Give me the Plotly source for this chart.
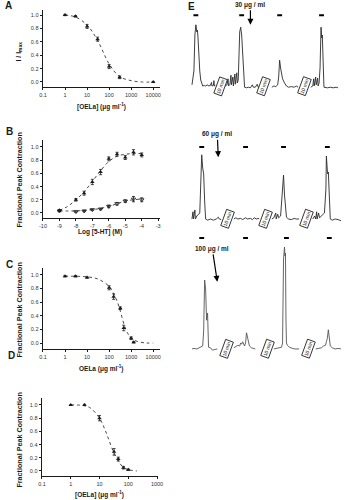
import plotly.graph_objects as go

W, H = 346, 500
FONT = "Liberation Sans, Arial, sans-serif"
INK = "#1a1a1a"

# ---------------- A: OELa inhibition of current (I/Imax) ----------------
a_conc = [1, 3, 10, 30, 100, 300, 10000]
a_resp = [1.0, 0.98, 0.83, 0.64, 0.23, 0.07, 0.0]
a_err = [0.01, 0.01, 0.03, 0.03, 0.03, 0.02, 0.0]
a_fit_conc = [1, 3, 10, 30, 100, 300, 1000, 3000, 10000]
a_fit_resp = [1.0, 0.97, 0.85, 0.62, 0.27, 0.08, 0.02, 0.0, 0.0]

# ---------------- B: 5-HT concentration-response ----------------
b_log = [-9, -8, -7.5, -7, -6.5, -6, -5.5, -5, -4.5, -4]
b_ctrl = [0.04, 0.2, 0.3, 0.47, 0.62, 0.82, 0.89, 0.84, 0.92, 0.88]
b_ctrl_err = [0.01, 0.02, 0.03, 0.04, 0.04, 0.03, 0.03, 0.03, 0.04, 0.03]
b_oela = [0.03, 0.02, 0.03, 0.05, 0.06, 0.10, 0.14, 0.18, 0.21, 0.20]
b_oela_err = [0.01, 0.01, 0.01, 0.01, 0.01, 0.02, 0.02, 0.02, 0.04, 0.03]
b_fit_log = [-9, -8.5, -8, -7.5, -7, -6.5, -6, -5.5, -5, -4.5, -4]
b_ctrl_fit = [0.04, 0.1, 0.2, 0.32, 0.48, 0.64, 0.78, 0.86, 0.89, 0.9, 0.9]
b_oela_fit = [0.03, 0.03, 0.03, 0.04, 0.05, 0.07, 0.1, 0.14, 0.18, 0.2, 0.21]

# ---------------- C: OELa on 5-HT contraction ----------------
c_conc = [1, 3, 10, 100, 160, 320, 460, 1000, 1300]
c_resp = [0.98, 0.98, 0.96, 0.81, 0.68, 0.51, 0.22, 0.07, 0.01]
c_err = [0.01, 0.01, 0.01, 0.03, 0.04, 0.02, 0.04, 0.02, 0.01]
c_fit_conc = [1, 10, 30, 100, 200, 300, 500, 700, 1000, 2000, 5000, 10000]
c_fit_resp = [0.98, 0.97, 0.94, 0.83, 0.66, 0.5, 0.25, 0.14, 0.07, 0.02, 0.0, 0.0]

# ---------------- D: OELa, second preparation ----------------
d_conc = [1, 3, 10, 32, 45, 68, 100]
d_resp = [1.0, 1.0, 0.8, 0.29, 0.18, 0.05, 0.02]
d_err = [0.0, 0.01, 0.04, 0.05, 0.03, 0.02, 0.01]
d_fit_conc = [1, 3, 5, 10, 15, 20, 30, 50, 70, 100, 200]
d_fit_resp = [1.0, 0.99, 0.95, 0.8, 0.64, 0.5, 0.3, 0.12, 0.05, 0.02, 0.0]

y_ticks = [0.0, 0.2, 0.4, 0.6, 0.8, 1.0]
y_tick_text = ["0.0", "0.2", "0.4", "0.6", "0.8", "1.0"]
log_ticks = [0.1, 1, 10, 100, 1000, 10000]
log_tick_text = ["0.1", "1", "10", "100", "1000", "10000"]
b_ticks = [-10, -9, -8, -7, -6, -5, -4, -3]

# ---------------- E: contraction recordings (arbitrary tension units) ----------------
# each row: list of segments (time, tension); segments are separated by 10-min breaks
e_row1 = [
    ([8, 9, 10, 11, 12, 13, 13.6, 14.2, 15, 16, 17, 18, 19, 21, 22, 24, 25, 27, 28, 28.5, 30, 30.5, 31, 32],
     [0.02, 0.15, 0.25, 0.85, 1.02, 0.9, 0.93, 0.8, 0.5, 0.25, 0.1, 0.03, 0.0, 0.01, 0.0, 0.02, 0.0, 0.01, 0.06, 0.0, 0.01, 0.09, 0.0, 0.01]),
    ([42, 44, 45, 45.5, 47, 48, 48.5, 50, 50.5, 52, 52.5, 54, 54.5, 55.5, 57, 58, 59, 60, 61, 62, 64, 66, 68, 70, 71, 73, 75, 76, 77],
     [0.0, 0.02, 0.12, 0.0, 0.03, 0.18, 0.02, 0.15, 0.0, 0.2, 0.03, 0.22, 0.05, 0.1, 0.9, 0.98, 0.85, 0.5, 0.1, -0.02, -0.03, -0.02, -0.03, 0.02, -0.02, -0.02, 0.03, -0.02, -0.02]),
    ([90, 92, 94, 96, 97, 98, 99, 100, 101, 103, 105, 107, 110, 113, 115, 117],
     [-0.02, 0.0, -0.01, 0.02, 0.15, 0.43, 0.3, 0.2, 0.12, 0.05, 0.0, -0.02, -0.01, -0.02, 0.0, -0.02]),
    ([130, 132, 133, 133.5, 135, 135.5, 137, 137.5, 138.5, 139.5, 140.5, 141.2, 141.8, 142.5, 143.5, 147, 150, 153, 156, 158],
     [-0.02, 0.0, 0.12, 0.0, 0.15, 0.02, 0.13, 0.0, 0.05, 0.3, 0.98, 0.8, 0.85, 0.3, -0.02, -0.03, -0.02, -0.03, -0.02, -0.03]),
]
e_row2 = [
    ([8, 9, 9.5, 11, 11.5, 13, 16, 17, 18, 19, 19.5, 20, 21, 22, 24, 27, 30, 33, 35, 36, 38],
     [0.0, 0.12, 0.0, 0.15, 0.0, 0.05, 0.1, 0.6, 1.07, 0.85, 0.78, 0.75, 0.3, 0.0, -0.02, 0.0, -0.02, 0.0, 0.03, 0.0, -0.01]),
    ([51, 53, 55, 58, 60, 63, 65, 68, 70, 72, 74, 77],
     [0.0, 0.02, 0.0, 0.01, -0.01, 0.02, 0.0, 0.01, -0.01, 0.02, 0.0, 0.01]),
    ([90, 92, 94, 94.5, 96, 97, 99, 101, 102, 103, 104, 105, 107, 110, 113, 115, 118],
     [0.0, 0.02, 0.1, 0.0, 0.08, 0.02, 0.05, 0.5, 0.73, 0.4, 0.15, 0.03, 0.0, -0.01, 0.01, 0.0, 0.0]),
    ([132, 134, 135, 136, 136.5, 138, 139, 141, 144, 145.5, 146, 147, 147.5, 148, 149, 150, 152, 155, 158, 161],
     [0.0, 0.05, 0.0, 0.12, 0.0, 0.1, 0.02, 0.05, 0.1, 0.5, 1.05, 0.8, 0.75, 0.78, 0.3, 0.0, -0.02, 0.0, -0.01, -0.03]),
]
e_row3 = [
    ([8, 10, 13, 15, 17, 19, 20, 21, 22, 22.5, 23, 24, 24.5, 25, 27, 29, 31, 34],
     [0.0, 0.01, 0.0, 0.02, 0.03, 0.05, 0.3, 1.15, 1.0, 0.5, 0.48, 0.6, 0.1, 0.03, 0.02, -0.02, -0.01, 0.0]),
    ([51, 53, 55, 57, 58, 59, 60, 62, 63, 64, 65, 66, 67, 69, 71, 73],
     [0.02, 0.04, 0.06, 0.05, 0.1, 0.08, 0.12, 0.05, 0.1, 0.27, 0.2, 0.1, 0.05, 0.02, 0.01, 0.0]),
    ([92, 95, 98, 100, 101, 102, 103, 103.5, 104, 104.5, 105, 106, 108, 111, 114, 118],
     [0.0, 0.01, 0.02, 0.03, 0.1, 1.5, 1.7, 1.55, 1.6, 0.5, 0.1, 0.06, 0.03, 0.01, 0.0, 0.0]),
    ([135, 138, 141, 143, 145, 146, 147, 148, 149, 150, 152, 155, 158, 161],
     [0.0, 0.01, 0.02, 0.05, 0.06, 0.12, 0.18, 0.32, 0.15, 0.05, 0.02, 0.0, 0.01, 0.0]),
]
e_stim = [[12, 59, 98, 141], [18, 63, 102, 147], [18, 63, 105, 149]]
e_stim_level = [1.18, 1.2, 1.85]
e_break = [[37, 81, 123], [45, 84, 126], [44, 86, 128]]
e_dose = ["30 μg / ml", "60 μg / ml", "100 μg / ml"]
e_dose_time = [68, 35, 34]
e_dose_level = [1.02, 1.03, 1.12]


def fx(p):
    return p / W


def fy(p):
    return 1 - p / H


fig = go.Figure()

marker_filled = dict(symbol="triangle-up", size=4, color=INK)
fit_line = dict(color=INK, width=0.8, dash="dot", shape="spline", smoothing=1)


def err(arr):
    return dict(type="data", array=arr, thickness=0.8, width=1.5, color=INK)


# A
fig.add_trace(go.Scatter(x=a_fit_conc, y=a_fit_resp, mode="lines", line=fit_line, xaxis="x", yaxis="y"))
fig.add_trace(go.Scatter(x=a_conc, y=a_resp, mode="markers", marker=marker_filled, error_y=err(a_err), xaxis="x", yaxis="y"))
# B
fig.add_trace(go.Scatter(x=b_fit_log, y=b_ctrl_fit, mode="lines", line=fit_line, xaxis="x2", yaxis="y2"))
fig.add_trace(go.Scatter(x=b_fit_log, y=b_oela_fit, mode="lines", line=fit_line, xaxis="x2", yaxis="y2"))
fig.add_trace(go.Scatter(x=b_log, y=b_ctrl, mode="markers", marker=marker_filled, error_y=err(b_ctrl_err), xaxis="x2", yaxis="y2"))
fig.add_trace(go.Scatter(x=b_log, y=b_oela, mode="markers",
                         marker=dict(symbol="triangle-down-open", size=4, color=INK, line=dict(width=0.8)),
                         error_y=err(b_oela_err), xaxis="x2", yaxis="y2"))
# C
fig.add_trace(go.Scatter(x=c_fit_conc, y=c_fit_resp, mode="lines", line=fit_line, xaxis="x3", yaxis="y3"))
fig.add_trace(go.Scatter(x=c_conc, y=c_resp, mode="markers", marker=marker_filled, error_y=err(c_err), xaxis="x3", yaxis="y3"))
# D
fig.add_trace(go.Scatter(x=d_fit_conc, y=d_fit_resp, mode="lines", line=fit_line, xaxis="x4", yaxis="y4"))
fig.add_trace(go.Scatter(x=d_conc, y=d_resp, mode="markers", marker=marker_filled, error_y=err(d_err), xaxis="x4", yaxis="y4"))

# E recordings
rows = [e_row1, e_row2, e_row3]
row_colors = ["#2a2a2a", "#2a2a2a", "#555555"]
for i, segs in enumerate(rows):
    xa, ya = "x%d" % (5 + i), "y%d" % (5 + i)
    tt, vv = [], []
    for t, v in segs:
        tt += t + [None]
        vv += v + [None]
    fig.add_trace(go.Scatter(x=tt, y=vv, mode="lines", line=dict(color=row_colors[i], width=0.9),
                             xaxis=xa, yaxis=ya))
    st, sv = [], []
    for s in e_stim[i]:
        st += [s - 2.5, s + 2.5, None]
        sv += [e_stim_level[i], e_stim_level[i], None]
    fig.add_trace(go.Scatter(x=st, y=sv, mode="lines", line=dict(color="#000", width=2),
                             xaxis=xa, yaxis=ya))


def sci_axis(**kw):
    base = dict(showline=True, linecolor=INK, linewidth=0.8, ticks="outside", ticklen=2.5,
                tickwidth=0.8, tickcolor=INK, showgrid=False, zeroline=False,
                tickfont=dict(family=FONT, size=5.5, color="#333"), fixedrange=True)
    base.update(kw)
    return base


def yax(anchor, dom, rng):
    return sci_axis(anchor=anchor, domain=[fy(dom[0]), fy(dom[1])], range=rng,
                    tickvals=y_ticks, ticktext=y_tick_text)


def hidden(anchor, dom, rng):
    return dict(visible=False, anchor=anchor, domain=dom, range=rng, fixedrange=True)


layout = dict(
    width=W, height=H, margin=dict(l=0, r=0, t=0, b=0),
    paper_bgcolor="white", plot_bgcolor="white", showlegend=False,
    font=dict(family=FONT, color=INK),
    xaxis=sci_axis(anchor="y", domain=[fx(40), fx(160)], type="log", range=[-1, 4.3],
                   tickvals=log_ticks, ticktext=log_tick_text),
    yaxis=yax("x", (87, 10), [-0.075, 1.075]),
    xaxis2=sci_axis(anchor="y2", domain=[fx(40), fx(160)], range=[-10, -2.9],
                    tickvals=b_ticks, ticktext=[str(v) for v in b_ticks]),
    yaxis2=yax("x2", (218, 140), [-0.076, 1.106]),
    xaxis3=sci_axis(anchor="y3", domain=[fx(40), fx(160)], type="log", range=[-1, 4.3],
                    tickvals=log_ticks, ticktext=log_tick_text),
    yaxis3=yax("x3", (349, 268), [-0.088, 1.10]),
    xaxis4=sci_axis(anchor="y4", domain=[fx(39), fx(158)], type="log", range=[-1, 3.03],
                    tickvals=log_ticks[:5], ticktext=log_tick_text[:5]),
    yaxis4=yax("x4", (476, 398), [-0.076, 1.106]),
    xaxis5=hidden("y5", [fx(185), 1], [0, 161]),
    yaxis5=hidden("x5", [fy(100), fy(0)], [-0.233, 1.433]),
    xaxis6=hidden("y6", [fx(185), 1], [0, 161]),
    yaxis6=hidden("x6", [fy(232), fy(128)], [-0.217, 1.517]),
    xaxis7=hidden("y7", [fx(185), 1], [0, 161]),
    yaxis7=hidden("x7", [fy(362), fy(232)], [-0.217, 1.95]),
)
fig.update_layout(**layout)

ann = []


def paper_text(text, x, y, size=7, angle=0, bold=True):
    ann.append(dict(text="<b>%s</b>" % text if bold else text, x=fx(x), y=fy(y), xref="paper", yref="paper",
                    showarrow=False, textangle=angle, xanchor="center", yanchor="middle",
                    font=dict(family=FONT, size=size, color=INK)))


# panel letters
for letter, lx, ly in [("A", 5, 5), ("B", 6, 131), ("C", 6, 264), ("D", 8, 355), ("E", 192, 6)]:
    paper_text(letter, lx, ly, size=10)

# axis titles
conc_unit = "(μg ml<sup>-1</sup>)"
paper_text("[OELa] " + conc_unit, 100, 107, size=6.5)
paper_text("I / I<sub>max</sub>", 15, 52, angle=-90)
paper_text("Log [5-HT] (M)", 99, 232, size=6.5)
paper_text("Fractional Peak Contraction", 15, 180, size=7.2, angle=-90)
paper_text("OELa " + conc_unit, 100, 368, size=6.5)
paper_text("Fractional Peak Contraction", 15, 310, size=7.2, angle=-90)
paper_text("[OELa] " + conc_unit, 98, 494, size=6.5)
paper_text("Fractional Peak Contraction", 15, 440, size=7.2, angle=-90)

# E: 10-min breaks, drug additions
dose_offsets = [(0, -20), (-1, -23), (-5, -33)]
for i in range(3):
    xa, ya = "x%d" % (5 + i), "y%d" % (5 + i)
    for t in e_break[i]:
        ann.append(dict(text="10 min", x=t, y=0.0, xref=xa, yref=ya, showarrow=False,
                        textangle=-70, font=dict(family=FONT, size=5, color=INK),
                        bordercolor=INK, borderwidth=0.8, borderpad=0.5, bgcolor="white"))
    ax_off, ay_off = dose_offsets[i]
    ann.append(dict(text="<b>%s</b>" % e_dose[i], x=e_dose_time[i], y=e_dose_level[i], xref=xa, yref=ya,
                    showarrow=True, arrowhead=2, arrowsize=1, arrowwidth=1.2, arrowcolor="#000",
                    ax=ax_off, ay=ay_off, standoff=0,
                    font=dict(family=FONT, size=6.5, color=INK)))

fig.update_layout(annotations=ann)
fig.write_html("out.html")
